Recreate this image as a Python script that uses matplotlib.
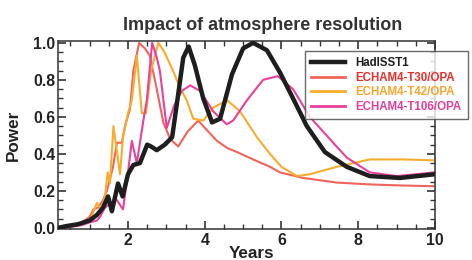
import matplotlib
matplotlib.use('Agg')
import matplotlib.pyplot as plt
from matplotlib.ticker import MultipleLocator

plt.rcParams['font.family'] = ['Liberation Sans', 'DejaVu Sans']
plt.rcParams['font.weight'] = 'bold'

# values
had_x = [0.17, 0.4, 0.7, 1.0, 1.19, 1.35, 1.48, 1.58, 1.74, 1.86, 2.0, 2.14, 2.31, 2.5, 2.6, 2.75, 2.96, 3.15, 3.3,
         3.44, 3.58, 3.74, 3.96, 4.19, 4.4, 4.71, 5.0, 5.26, 5.62, 5.96, 6.3, 6.66, 7.13, 7.7, 8.3, 9.09, 10.0]
had_y = [0.0, 0.01, 0.02, 0.04, 0.07, 0.11, 0.17, 0.09, 0.24, 0.17, 0.29, 0.34, 0.35, 0.45, 0.44, 0.42, 0.45, 0.49, 0.71,
         0.92, 0.98, 0.88, 0.70, 0.57, 0.59, 0.83, 0.97, 1.0, 0.96, 0.84, 0.70, 0.55, 0.41, 0.33, 0.28, 0.27, 0.29]

t30_x = [0.17, 0.5, 0.8, 1.0, 1.1, 1.22, 1.35, 1.45, 1.61, 1.71, 1.84, 1.92, 2.05, 2.14, 2.29, 2.44, 2.57, 2.75,
         2.92, 3.1, 3.31, 3.55, 3.83, 4.05, 4.32, 4.6, 4.84, 5.26, 5.7, 5.96, 6.56, 7.44, 8.3, 9.0, 10.0]
t30_y = [0.0, 0.01, 0.03, 0.06, 0.10, 0.11, 0.15, 0.20, 0.33, 0.46, 0.46, 0.55, 0.64, 0.85, 1.0, 0.97, 0.93, 0.75,
         0.57, 0.48, 0.44, 0.52, 0.58, 0.53, 0.47, 0.43, 0.41, 0.37, 0.33, 0.30, 0.27, 0.245, 0.235, 0.23, 0.225]

t42_x = [0.17, 0.5, 0.8, 1.01, 1.19, 1.3, 1.40, 1.47, 1.53, 1.62, 1.72, 1.79, 1.87, 2.0, 2.1, 2.23, 2.36, 2.47, 2.6,
         2.79, 2.95, 3.17, 3.35, 3.53, 3.7, 3.96, 4.22, 4.58, 4.92, 5.36, 5.7, 6.0, 6.4, 6.74, 7.44, 8.3, 9.17, 10.0]
t42_y = [0.0, 0.01, 0.03, 0.04, 0.135, 0.10, 0.17, 0.30, 0.24, 0.55, 0.40, 0.29, 0.49, 0.62, 0.69, 0.93, 0.62, 0.62, 0.85,
         1.0, 0.95, 0.85, 0.76, 0.69, 0.59, 0.58, 0.65, 0.69, 0.63, 0.49, 0.40, 0.33, 0.28, 0.29, 0.33, 0.37, 0.37, 0.365]

t106_x = [0.17, 0.5, 0.8, 1.0, 1.19, 1.27, 1.4, 1.53, 1.66, 1.71, 1.87, 2.0, 2.1, 2.23, 2.4, 2.49, 2.63, 2.75, 2.83,
          3.01, 3.2, 3.4, 3.62, 3.88, 4.22, 4.57, 4.74, 5.1, 5.52, 5.9, 6.3, 6.74, 7.26, 7.7, 8.3, 9.0, 10.0]
t106_y = [0.0, 0.005, 0.015, 0.03, 0.04, 0.06, 0.11, 0.13, 0.15, 0.15, 0.10, 0.30, 0.47, 0.35, 0.58, 0.69, 1.0, 0.92, 0.85,
          0.54, 0.66, 0.74, 0.77, 0.74, 0.63, 0.56, 0.58, 0.69, 0.80, 0.82, 0.75, 0.60, 0.48, 0.38, 0.30, 0.28, 0.30]

labels = ['HadISST1', 'ECHAM4-T30/OPA', 'ECHAM4-T42/OPA', 'ECHAM4-T106/OPA']
line_colors = ['#1e1e1e', '#f0645c', '#f8ac2c', '#e8409c']
text_colors = ['#1e1e1e', '#e8302a', '#f5a530', '#e0409a']

fig = plt.figure(figsize=(4.72, 2.6), dpi=100)
ax = fig.add_axes([0.1229, 0.1192, 0.7987, 0.7231])

ax.plot(t30_x, t30_y, color=line_colors[1], lw=1.5, label=labels[1])
ax.plot(t42_x, t42_y, color=line_colors[2], lw=1.5, label=labels[2])
ax.plot(t106_x, t106_y, color=line_colors[3], lw=1.5, label=labels[3])
ax.plot(had_x, had_y, color=line_colors[0], lw=3.2, label=labels[0], zorder=3)

ax.set_xlim(0.176, 10)
ax.set_ylim(-0.006, 1.01)
ax.xaxis.set_major_locator(MultipleLocator(2))
ax.xaxis.set_minor_locator(MultipleLocator(0.5))
ax.yaxis.set_major_locator(MultipleLocator(0.2))
ax.yaxis.set_minor_locator(MultipleLocator(0.05))
ax.set_yticks([0, 0.2, 0.4, 0.6, 0.8, 1.0])
ax.set_yticklabels(['0.0', '0.2', '0.4', '0.6', '0.8', '1.0'])
ax.tick_params(which='both', direction='in', top=True, right=True, color='#333333',
               labelsize=11.4, labelcolor='#222222')
ax.tick_params(which='major', length=6, width=1.2)
ax.tick_params(which='minor', length=3.5, width=1.0)
ax.tick_params(axis='x', pad=3)
ax.tick_params(axis='y', pad=2)
for s in ax.spines.values():
    s.set_color('#333333')
    s.set_linewidth(1.1)

ax.set_ylabel('Power', fontsize=12.3, fontweight='bold', color='#222222', labelpad=9)
fig.text(0.533, 0.055, 'Years', ha='center', va='top', fontsize=12.3, fontweight='bold', color='#222222')
fig.text(0.556, 0.9, 'Impact of atmosphere resolution', ha='center', va='center',
         fontsize=13, fontweight='bold', color='#333333')

handles, labs = ax.get_legend_handles_labels()
order = [3, 0, 1, 2]
leg = ax.legend([handles[i] for i in order], [labs[i] for i in order], loc='upper left',
                bbox_to_anchor=(0.655, 0.947), borderaxespad=0, frameon=True,
                fancybox=False, handlelength=3.0, handletextpad=0.9, labelspacing=0.25,
                borderpad=0.5, prop={'weight': 'bold', 'size': 8.3})
leg.get_frame().set_edgecolor('#444444')
leg.get_frame().set_linewidth(1.0)
for txt, c in zip(leg.get_texts(), text_colors):
    txt.set_color(c)
for ln in leg.get_lines():
    ln.set_linewidth(2.0)
leg.get_lines()[0].set_linewidth(3.2)

fig.savefig('out.png', dpi=100)
